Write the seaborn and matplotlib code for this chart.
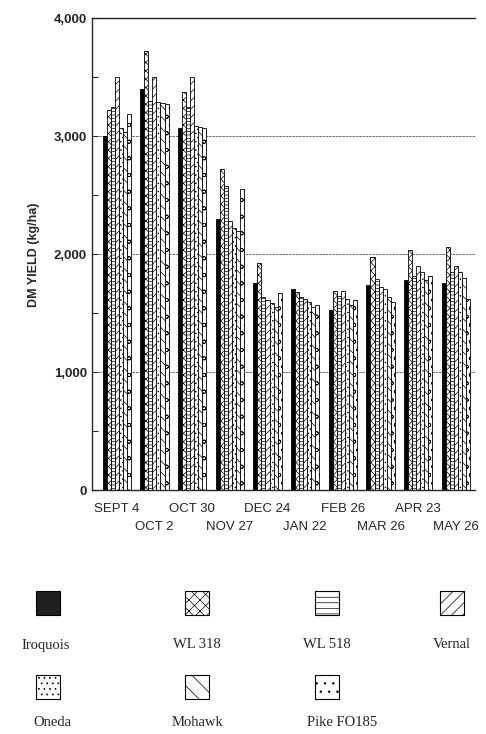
import matplotlib
matplotlib.use("Agg")
import matplotlib.pyplot as plt
import matplotlib.patches as mpatches
from matplotlib.ticker import MultipleLocator, FuncFormatter, FixedLocator
import pandas as pd
import seaborn as sns

# harvest dates (x categories) and alfalfa varieties (hue)
dates = ["SEPT 4", "OCT 2", "OCT 30", "NOV 27", "DEC 24",
         "JAN 22", "FEB 26", "MAR 26", "APR 23", "MAY 26"]
varieties = ["Iroquois", "WL 318", "WL 518", "Vernal", "Oneda", "Mohawk", "Pike FO185"]

# DM yield, kg/ha (one list per variety, in date order)
iroquois = [3000, 3400, 3070, 2300, 1760, 1710, 1530, 1740, 1780, 1760]
wl318 = [3220, 3720, 3380, 2720, 1930, 1680, 1690, 1975, 2040, 2060]
wl518 = [3250, 3300, 3250, 2580, 1640, 1640, 1650, 1790, 1820, 1850]
vernal = [3500, 3500, 3500, 2280, 1610, 1620, 1690, 1720, 1900, 1900]
oneda = [3070, 3290, 3090, 2220, 1585, 1600, 1620, 1710, 1850, 1850]
mohawk = [3040, 3280, 3080, 2200, 1550, 1550, 1570, 1640, 1780, 1800]
pike = [3190, 3270, 3070, 2550, 1670, 1570, 1610, 1600, 1820, 1620]

series = [iroquois, wl318, wl518, vernal, oneda, mohawk, pike]
rows = []
for name, vals in zip(varieties, series):
    for d, v in zip(dates, vals):
        rows.append({"date": d, "variety": name, "yield": v})
df = pd.DataFrame(rows)

hatches = ["", "xxxx", "-----", "////", "....", "\\\\\\", "oo"]
legend_hatches = ["", "xxx", "---", "///", "...", "\\\\", ".."]
palette = {v: ("black" if v == "Iroquois" else "white") for v in varieties}

sns.set_style("ticks")
plt.rcParams["font.family"] = ["Liberation Sans", "DejaVu Sans"]
plt.rcParams["hatch.linewidth"] = 0.5

fig = plt.figure(figsize=(4.86, 7.34), dpi=100)
ax = fig.add_axes([0.189, 0.332, 0.788, 0.643])

sns.barplot(data=df, x="date", y="yield", hue="variety", order=dates,
            hue_order=varieties, palette=palette, edgecolor="black",
            linewidth=0.6, width=0.75, legend=False, ax=ax)
for cont, h in zip(ax.containers, hatches):
    for bar in cont:
        bar.set_hatch(h)

ax.set_ylim(0, 4000)
ax.set_xlim(-0.66, 9.5)
ax.yaxis.set_major_locator(MultipleLocator(1000))
ax.yaxis.set_minor_locator(MultipleLocator(500))
ax.yaxis.set_major_formatter(FuncFormatter(lambda v, p: f"{int(v):,}"))
ax.tick_params(axis="y", which="both", direction="in", length=4, width=0.8,
               labelsize=9.5)
for lab in ax.get_yticklabels():
    lab.set_fontweight("bold")

# staggered date labels: even ones on the upper row, odd ones lower
ax.xaxis.set_major_locator(FixedLocator(range(0, len(dates), 2)))
ax.xaxis.set_minor_locator(FixedLocator(range(1, len(dates), 2)))
ax.set_xticklabels(dates[0::2])
ax.set_xticklabels(dates[1::2], minor=True)
ax.tick_params(axis="x", which="major", length=0, labelsize=9.5, pad=9)
ax.tick_params(axis="x", which="minor", length=0, labelsize=9.5, pad=22)
ax.set_xlabel("")
ax.set_ylabel("DM YIELD (kg/ha)", fontsize=9, fontweight="bold", labelpad=10)

ax.set_axisbelow(True)
for yv in [1000, 2000, 3000]:
    ax.axhline(yv, color="0.35", lw=0.6, ls=(0, (3, 1)), zorder=0)
for s in ["top", "left", "bottom"]:
    ax.spines[s].set_linewidth(1.0)
ax.spines["right"].set_visible(False)

# legend drawn as icon-above-label grid
lax = fig.add_axes([0, 0, 1, 0.25])
lax.set_xlim(0, 486)
lax.set_ylim(183.5, 0)
lax.axis("off")
cols = [48, 197, 327, 452]
label_x = [46, 197, 327, 452, 52, 197, 342]
icon_row = [603 - 550.5, 687 - 550.5]
text_row = [645 - 550.5, 722 - 550.5]
for i, name in enumerate(varieties):
    r = 0 if i < 4 else 1
    cx = cols[i % 4] if i < 4 else cols[i - 4]
    face = "0.12" if name == "Iroquois" else "white"
    lax.add_patch(mpatches.Rectangle((cx - 12, icon_row[r] - 12), 24, 24,
                                     facecolor=face, edgecolor="black",
                                     lw=0.8, hatch=legend_hatches[i]))
    lax.text(label_x[i], text_row[r], name, ha="center", va="center",
             fontsize=10.5, family=["Liberation Serif", "DejaVu Serif"])

fig.savefig("out.png", dpi=100)
